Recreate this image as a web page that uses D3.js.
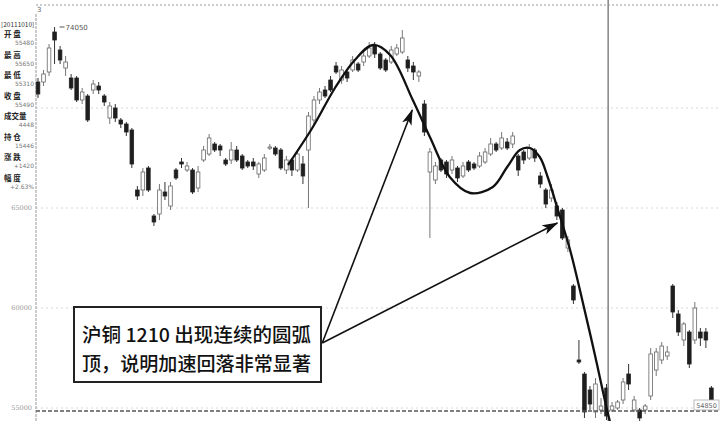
<!DOCTYPE html>
<html><head><meta charset="utf-8">
<script src="https://cdn.jsdelivr.net/npm/d3@7/dist/d3.min.js"></script>
<style>html,body{margin:0;padding:0;background:#fff;}svg{display:block;}</style>
</head><body>
<svg id="chart" width="720" height="421"></svg>
<script>
// ---- data ----
const opens  = [71300,71300,71800,73800,72900,72000,71500,71500,70400,70600,70900,71100,70600,69500,70000,69400,69200,68900,65900,65900,67000,64600,64700,65800,65100,66900,67300,66900,66900,66000,67400,67700,68200,68100,67400,67400,67900,67600,67300,67300,66700,66900,68000,68000,67900,66900,67400,66900,67200,67900,69400,70400,70900,71400,72100,71400,71800,71900,72200,72300,72600,73100,72700,72400,72300,72700,72800,72400,72100,71600,70200,66800,66400,67400,67300,66900,67000,66600,67300,67200,67100,67300,67700,68200,68000,68300,68200,67600,67800,67500,67900,66600,65900,65500,65100,64900,63000,61100,57400,56700,55900,54800,54900,56000,54900,55000,55400,56700,54900,54900,54900,55600,56900,57400,57600,61100,59700,58400,58800,58400,58800,58800,56000];
const highs  = [71500,71900,73200,74050,73100,72600,71700,71600,71000,70700,71400,71300,70700,70300,70200,69500,69300,69000,66100,67000,67100,64700,66200,66300,66300,67000,67500,67300,67000,67100,68100,68700,68300,68200,67500,68300,68100,67700,67400,67500,67300,67700,68200,68100,68000,67600,67500,67900,67600,69800,70600,71000,71100,71600,72300,72100,71900,72600,72300,72800,73300,73300,72800,72500,73100,73200,73900,72600,72300,71900,70400,68000,67300,67500,67400,67600,67100,67300,67400,67300,67800,68000,68500,68300,68800,68500,68800,67700,67900,68200,68000,66800,66000,66200,65300,65000,63600,61200,58400,56800,56100,56500,55500,56200,55300,55400,56500,57200,55600,55000,55200,58000,58000,58300,58100,61200,59900,59300,58900,60300,59000,59000,56100];
const lows   = [70500,71100,71600,72200,72200,71600,70900,70300,70200,69300,70700,70700,70100,69200,69300,69000,68600,67000,65400,65600,65800,64100,64400,65400,64900,66400,67000,66800,65700,65800,67300,67600,67800,67600,67100,67200,67300,66900,67000,66900,66500,66800,67900,67600,66900,66700,66600,66800,66200,65000,69200,70200,70500,70800,71700,71200,71300,71800,71800,72100,72500,72500,71900,71800,72200,72600,72700,71800,71400,71300,68600,63500,66200,66800,66500,66700,66300,66500,66800,66900,67000,67200,67600,67800,67900,67900,68000,66600,67200,67400,67300,66000,65000,65300,64400,63400,62800,60200,57200,54500,54900,54500,54700,54400,54800,54900,55200,55900,54800,54300,54700,55400,56600,57200,57400,59500,58600,58100,57000,58200,58100,58000,55200];
const closes = [70700,71700,73000,73400,72400,72300,71000,70400,70800,69400,71200,70900,70300,70100,69500,69200,68800,67200,65600,66800,65900,64300,65900,65600,66100,66500,67200,67100,65800,66800,67900,68500,67900,67900,67200,67900,67400,67000,67100,67100,67200,67500,68050,67700,67000,67400,66900,67700,66600,69600,70400,70800,70600,70900,71800,71900,71500,72400,71900,72600,73000,72700,72000,71900,72900,73000,73500,72000,71800,71800,68800,67800,67100,66900,66700,67400,66500,67100,66900,67000,67600,67800,68200,67900,68500,68000,68600,66900,67400,68000,67500,66200,65200,65900,64600,63500,63400,60400,57300,54800,55200,56200,55100,54600,55100,55300,56300,56200,55400,54500,55100,57700,57800,58100,57800,59800,58800,59200,57200,60000,58500,58400,55400];

const priceTicks = [70000, 65000, 60000, 55000];
const tickLabels = ["", "65000", "60000", "55000"];
const highLabel = "74050";
const infoLabels = ["开 盘","最 高","最 低","收 盘","成交量","持 仓","涨 跌","幅 度"];
const infoValues = ["55480","55650","55310","55490","4448","15446","+1420","+2.63%"];
const infoDate = "20111010";

// hand-drawn arc annotation, in (bar index, price)
const arcIdx   = [45.3,49.8,53.8,57.4,60.7,63.8,67.9,71.0,74.6,78.3,82.4,85.0,87.3,89.1,90.9,92.4,94.2,96.4,98.6,100.9,103.1,104.2];
const arcPrice = [67150,69050,71000,72400,73150,72650,70400,68550,66550,65750,66050,67050,67900,68000,67550,66500,64900,62900,60400,57650,54900,53700];
// arrows (start / tip) in (bar index, price)
const arrowStart = [51.5, 58250];
const arrowTips = [[67.8, 69900], [94.1, 64250]];
const cursorIndex = 103.3;
const cursorPrice = 54850;
const cursorLabel = "54850";
const noteLines = ["沪铜 1210 出现连续的圆弧", "顶，说明加速回落非常显著"];

// ---- drawing ----
const W = 720, H = 421;
const svg = d3.select("#chart");
svg.append("rect").attr("width", W).attr("height", H).attr("fill", "#fff");

const x = d3.scaleLinear().domain([0, opens.length - 1]).range([38, 711.4]);
const y = d3.scaleLinear().domain([55000, 65000]).range([408, 208]);

// top dotted header line
svg.append("line").attr("x1", 36).attr("x2", W).attr("y1", 5).attr("y2", 5)
  .attr("stroke", "#9a9a9a").attr("stroke-width", 1.2).attr("stroke-dasharray", "2,2");

// grid lines
priceTicks.forEach((p, i) => {
  svg.append("line").attr("x1", 36).attr("x2", W).attr("y1", y(p)).attr("y2", y(p))
    .attr("stroke", "#d6d6d6").attr("stroke-width", 1).attr("stroke-dasharray", "2,3");
  if (tickLabels[i]) {
    svg.append("text").attr("x", 32).attr("y", y(p) + 2).attr("text-anchor", "end")
      .attr("font-family", "DejaVu Serif, serif").attr("font-size", 6.5).attr("fill", "#999")
      .text(tickLabels[i]);
  }
});

// left axis
svg.append("line").attr("x1", 36).attr("x2", 36).attr("y1", 14).attr("y2", H)
  .attr("stroke", "#a8a8a8").attr("stroke-width", 1.2).attr("stroke-dasharray", "3,1");
svg.append("text").attr("x", 37).attr("y", 12).attr("font-size", 7).attr("fill", "#666")
  .attr("font-family", "DejaVu Sans").text("3");

// info panel
const info = svg.append("g").attr("font-family", "Noto Sans CJK SC, sans-serif");
info.append("text").attr("x", 1).attr("y", 27).attr("font-size", 6.5).attr("fill", "#333")
  .text("[" + infoDate + "]");
infoLabels.forEach((lab, i) => {
  const base = 37 + i * 20.5;
  info.append("text").attr("x", 4).attr("y", base).attr("font-size", 7.5).attr("font-weight", 700)
    .attr("fill", "#222").text(lab);
  info.append("text").attr("x", 34).attr("y", base + 8).attr("font-size", 6).attr("text-anchor", "end")
    .attr("fill", "#777").attr("font-family", "DejaVu Sans").text(infoValues[i]);
});

// candles
const cw = 3.6;
const g = svg.append("g");
opens.forEach((o, i) => {
  const c = closes[i], up = c >= o;
  const cx = x(i);
  g.append("line").attr("x1", cx).attr("x2", cx).attr("y1", y(highs[i])).attr("y2", y(lows[i]))
    .attr("stroke", up ? "#777" : "#333").attr("stroke-width", 1);
  const top = y(Math.max(o, c)), bot = y(Math.min(o, c));
  g.append("rect").attr("x", cx - cw / 2).attr("y", top).attr("width", cw)
    .attr("height", Math.max(1.2, bot - top))
    .attr("fill", up ? "#fff" : "#1e1e1e").attr("stroke", up ? "#666" : "#222").attr("stroke-width", 0.8);
});

// high marker
const hi = d3.maxIndex(highs);
svg.append("line").attr("x1", x(hi) + 5).attr("x2", x(hi) + 10).attr("y1", y(highs[hi])).attr("y2", y(highs[hi]))
  .attr("stroke", "#555").attr("stroke-width", 1);
svg.append("text").attr("x", x(hi) + 11).attr("y", y(highs[hi]) + 2.5).attr("font-size", 7)
  .attr("fill", "#555").attr("font-family", "DejaVu Sans").text(highLabel);

// cursor cross lines
svg.append("line").attr("x1", 36).attr("x2", W).attr("y1", y(cursorPrice)).attr("y2", y(cursorPrice))
  .attr("stroke", "#555").attr("stroke-width", 1.3).attr("stroke-dasharray", "4,2");
svg.append("line").attr("x1", x(cursorIndex)).attr("x2", x(cursorIndex)).attr("y1", 0).attr("y2", H)
  .attr("stroke", "#8c8c8c").attr("stroke-width", 1.6);
svg.append("rect").attr("x", 694).attr("y", y(cursorPrice) - 11).attr("width", 25).attr("height", 10)
  .attr("fill", "#fff").attr("stroke", "#aaa").attr("stroke-width", 0.8);
svg.append("text").attr("x", 706.5).attr("y", y(cursorPrice) - 3.5).attr("text-anchor", "middle")
  .attr("font-size", 6.5).attr("fill", "#666").attr("font-family", "DejaVu Sans").text(cursorLabel);

// arc annotation
const clip = svg.append("clipPath").attr("id", "clipA");
clip.append("rect").attr("x", 0).attr("y", 0).attr("width", W).attr("height", H);
const arcPts = arcIdx.map((d, i) => [x(d), y(arcPrice[i])]);
svg.append("path").attr("clip-path", "url(#clipA)")
  .attr("d", d3.line().curve(d3.curveCatmullRom.alpha(0.5))(arcPts))
  .attr("fill", "none").attr("stroke", "#111").attr("stroke-width", 2.3);

// arrows
const defs = svg.append("defs");
defs.append("marker").attr("id", "ah").attr("viewBox", "0 0 16 10").attr("refX", 15).attr("refY", 5)
  .attr("markerWidth", 16).attr("markerHeight", 10).attr("markerUnits", "userSpaceOnUse").attr("orient", "auto")
  .append("path").attr("d", "M0,0 L16,5 L0,10 L4,5 Z").attr("fill", "#111");
arrowTips.forEach(t => {
  svg.append("line").attr("x1", x(arrowStart[0])).attr("y1", y(arrowStart[1]))
    .attr("x2", x(t[0])).attr("y2", y(t[1]))
    .attr("stroke", "#111").attr("stroke-width", 1.6).attr("marker-end", "url(#ah)");
});

// note box
svg.append("rect").attr("x", 74).attr("y", 307).attr("width", 247).attr("height", 75)
  .attr("fill", "#fff").attr("stroke", "#222").attr("stroke-width", 2);
noteLines.forEach((t, i) => {
  svg.append("text").attr("x", 82).attr("y", 342 + i * 29)
    .attr("font-family", "Noto Sans CJK SC, sans-serif").attr("font-size", 19).attr("font-weight", 500)
    .attr("fill", "#111").attr("textLength", 229).attr("lengthAdjust", "spacingAndGlyphs").text(t);
});
</script>
</body></html>
